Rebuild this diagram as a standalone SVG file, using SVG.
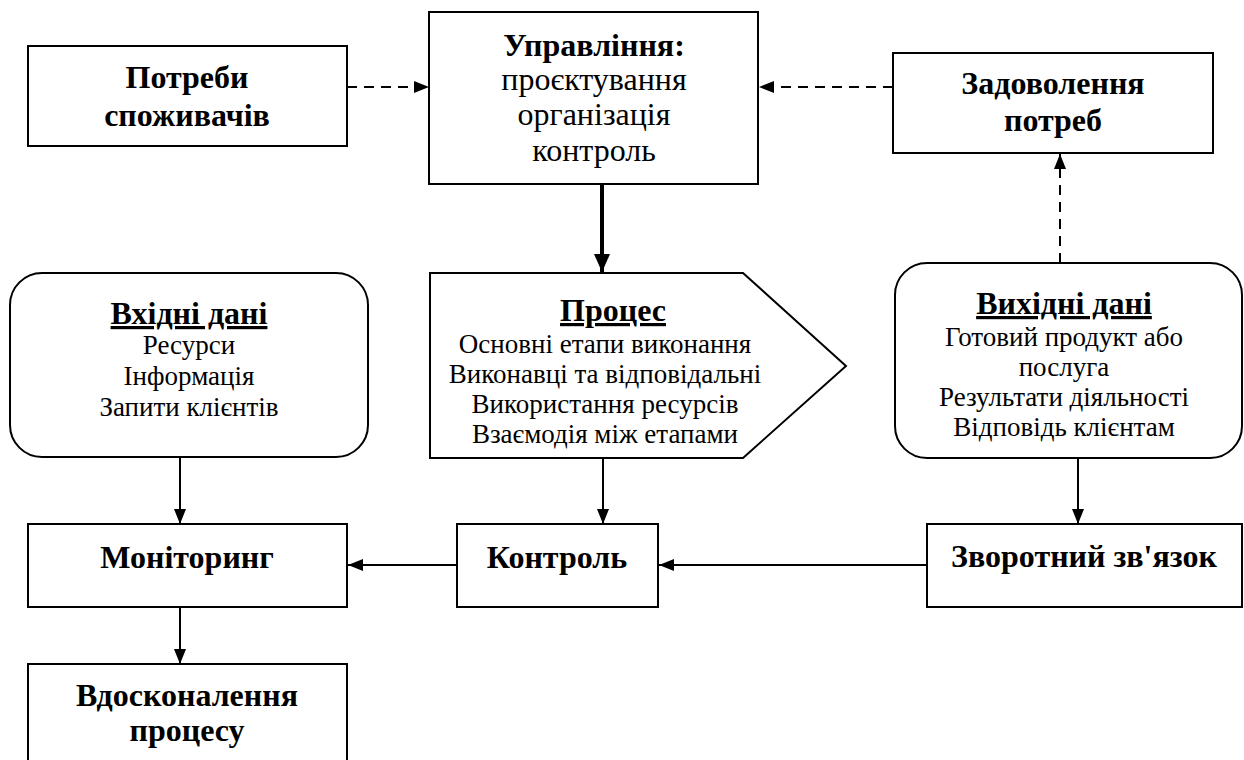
<svg xmlns="http://www.w3.org/2000/svg" width="1244" height="760" viewBox="0 0 1244 760">
<defs>
<marker id="ah" markerWidth="15" markerHeight="12" refX="15" refY="6" orient="auto" markerUnits="userSpaceOnUse">
<path d="M0,0 L15,6 L0,12 Z" fill="#000"/>
</marker>
<marker id="ahb" markerWidth="18" markerHeight="16" refX="18" refY="8" orient="auto" markerUnits="userSpaceOnUse">
<path d="M0,0 L18,8 L0,16 Z" fill="#000"/>
</marker>
</defs>
<style>
.box{fill:#fff;stroke:#000;stroke-width:2}
text{font-family:'Liberation Serif','Times New Roman',serif;fill:#000;text-anchor:middle}
.b{font-weight:bold;font-size:32px}
.r30{font-size:32px}
.r{font-size:27px}
.u{text-decoration:underline}
.ln{stroke:#000;stroke-width:2;fill:none}
.dash{stroke-dasharray:10,7}
.thick{stroke-width:4}
</style>
<rect width="1244" height="760" fill="#fff"/>

<g id="connectors">
<line class="ln dash" x1="347" y1="87" x2="429" y2="87" marker-end="url(#ah)"/>
<line class="ln dash" x1="893" y1="87" x2="759" y2="87" marker-end="url(#ah)"/>
<line class="ln thick" x1="602" y1="184" x2="602" y2="272" marker-end="url(#ahb)"/>
<line class="ln dash" x1="1060" y1="263" x2="1060" y2="154" marker-end="url(#ah)"/>
<line class="ln" x1="180" y1="457" x2="180" y2="524" marker-end="url(#ah)"/>
<line class="ln" x1="603" y1="458" x2="603" y2="524" marker-end="url(#ah)"/>
<line class="ln" x1="1078" y1="458" x2="1078" y2="524" marker-end="url(#ah)"/>
<line class="ln" x1="927" y1="565" x2="659" y2="565" marker-end="url(#ah)"/>
<line class="ln" x1="457" y1="565" x2="348" y2="565" marker-end="url(#ah)"/>
<line class="ln" x1="180" y1="607" x2="180" y2="664" marker-end="url(#ah)"/>
</g>

<g id="potreby">
<rect class="box" x="28" y="46" width="319" height="100"/>
<text class="b" x="187" y="88">Потреби</text>
<text class="b" x="187" y="126">споживачів</text>
</g>

<g id="upravlinnia">
<rect class="box" x="429" y="12" width="329" height="172"/>
<text class="b" x="594" y="56">Управління:</text>
<text class="r30" x="594" y="90">проєктування</text>
<text class="r30" x="594" y="125">організація</text>
<text class="r30" x="594" y="161">контроль</text>
</g>

<g id="zadovolennia">
<rect class="box" x="893" y="53" width="320" height="100"/>
<text class="b" x="1053" y="94">Задоволення</text>
<text class="b" x="1053" y="131">потреб</text>
</g>

<g id="vkhidni">
<rect class="box" x="10" y="273" width="358" height="184" rx="32" ry="32"/>
<text class="b u" x="189" y="324">Вхідні дані</text>
<text class="r" x="189" y="354">Ресурси</text>
<text class="r" x="189" y="385">Інформація</text>
<text class="r" x="189" y="416">Запити клієнтів</text>
</g>

<g id="protses">
<path class="box" d="M430,273 L743,273 L846,366 L743,458 L430,458 Z"/>
<text class="b u" x="613" y="321">Процес</text>
<text class="r" x="605" y="353">Основні етапи виконання</text>
<text class="r" x="605" y="383">Виконавці та відповідальні</text>
<text class="r" x="605" y="413">Використання ресурсів</text>
<text class="r" x="605" y="443">Взаємодія між етапами</text>
</g>

<g id="vykhidni">
<rect class="box" x="895" y="263" width="347" height="195" rx="32" ry="32"/>
<text class="b u" x="1064" y="314">Вихідні дані</text>
<text class="r" x="1064" y="346">Готовий продукт або</text>
<text class="r" x="1064" y="376">послуга</text>
<text class="r" x="1064" y="406">Результати діяльності</text>
<text class="r" x="1064" y="436">Відповідь клієнтам</text>
</g>

<g id="monitoring">
<rect class="box" x="28" y="524" width="319" height="83"/>
<text class="b" x="187" y="568">Моніторинг</text>
</g>

<g id="kontrol">
<rect class="box" x="457" y="524" width="201" height="83"/>
<text class="b" x="557" y="568">Контроль</text>
</g>

<g id="zvorotnii">
<rect class="box" x="927" y="524" width="315" height="83"/>
<text class="b" x="1084" y="567">Зворотний зв'язок</text>
</g>

<g id="vdoskonalennia">
<rect class="box" x="28" y="664" width="319" height="110"/>
<text class="b" x="187" y="706">Вдосконалення</text>
<text class="b" x="187" y="741">процесу</text>
</g>
</svg>
